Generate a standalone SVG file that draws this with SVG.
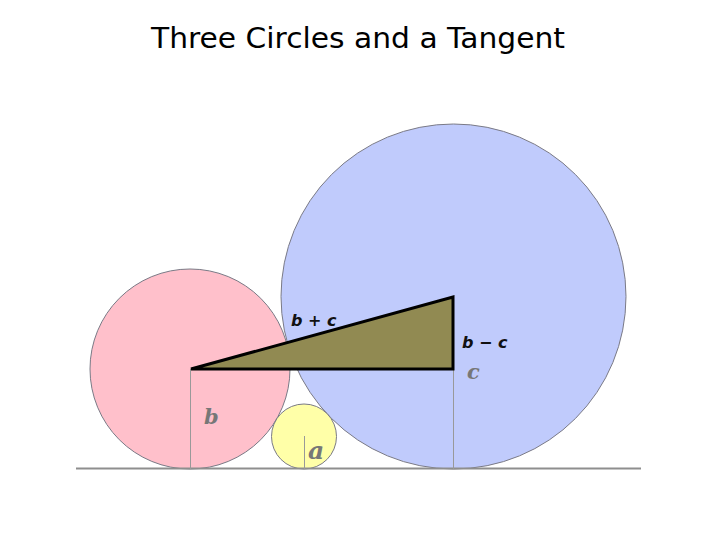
<svg xmlns="http://www.w3.org/2000/svg" width="720" height="540" viewBox="0 0 720 540">
<style>
.title{font-family:"Comic Sans MS","DejaVu Sans",sans-serif;font-size:28px;fill:#000}
.circ{stroke:#7a7a86;stroke-width:1}
.rad{stroke:#999;stroke-width:1;fill:none}
.lbl{font-family:"DejaVu Serif",serif;font-style:italic;font-weight:bold;fill:#777;font-size:21px}
.lbl2{font-family:"DejaVu Sans",sans-serif;font-style:italic;font-weight:bold;fill:#111;font-size:16px}
</style>
<rect width="720" height="540" fill="#fff"/>
<text class="title" x="358" y="48" text-anchor="middle" textLength="414" lengthAdjust="spacingAndGlyphs">Three Circles and a Tangent</text>
<g id="circle-b"><circle class="circ" cx="190" cy="369" r="100" fill="#ffc0cb"/></g>
<g id="circle-c"><circle class="circ" cx="453.5" cy="296.5" r="172.5" fill="#c0cbfc"/></g>
<g id="circle-a"><circle class="circ" cx="304" cy="436.5" r="32.5" fill="#ffffa8" stroke="#8a8a5a"/></g>
<g id="connectors">
<line x1="76" y1="468.5" x2="641" y2="468.5" stroke="#8e8e8e" stroke-width="2"/>
<line class="rad" x1="190.5" y1="369" x2="190.5" y2="469"/>
<line class="rad" x1="453.5" y1="369" x2="453.5" y2="469"/>
<line class="rad" x1="304.5" y1="436" x2="304.5" y2="469" stroke="#bbb"/>
</g>
<g id="triangle"><polygon points="191,369 453,369 453,297" fill="#918a52" stroke="#000" stroke-width="3" stroke-linejoin="miter"/></g>
<g id="labels">
<text class="lbl2" x="291" y="326">b + c</text>
<text class="lbl2" x="462" y="348">b − c</text>
<text class="lbl" x="467" y="379">c</text>
<text class="lbl" x="204" y="424">b</text>
<text class="lbl" x="308" y="459" style="font-size:25px">a</text>
</g>
</svg>
